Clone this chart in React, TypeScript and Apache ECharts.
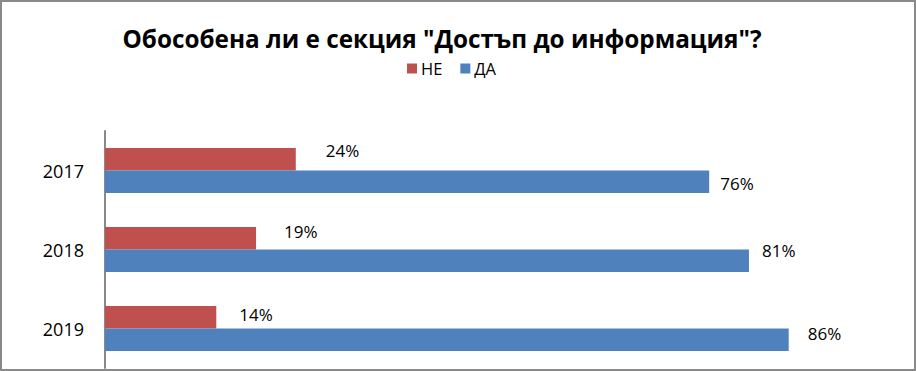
import React, { useEffect, useRef } from "react";
import * as echarts from "echarts";

const categories = ["2017", "2018", "2019"];
const seriesNames = ["НЕ", "ДА"];
const noValues = [24, 19, 14];
const yesValues = [76, 81, 86];
const titleText = 'Обособена ли е секция "Достъп до информация"?';

// manual label nudges (style only), as in the reference
const noLabelOffsets = [[25, -9], [23, -7], [18, -3]];
const yesLabelOffsets = [[6, 2], [8, -10], [14, -6]];

const FONT = "Open Sans";

export default function App() {
  const ref = useRef<HTMLDivElement>(null);
  useEffect(() => {
    if (!ref.current) return;
    const chart = echarts.init(ref.current, null, { renderer: "svg" });
    const mk = (vals: number[], offs: number[][]) =>
      vals.map((v, i) => ({
        value: v,
        label: { offset: offs[i] },
      }));
    chart.setOption({
      animation: false,
      backgroundColor: "#ffffff",
      title: {
        text: titleText,
        left: 437,
        textAlign: "center",
        top: 21,
        textStyle: {
          fontFamily: FONT,
          fontWeight: "bold",
          fontSize: 24.3,
          color: "#000000",
        },
      },
      legend: {
        data: seriesNames,
        left: 402,
        top: 55,
        itemWidth: 10,
        itemHeight: 10,
        itemGap: 18,
        icon: "rect",
        textStyle: { fontFamily: FONT, fontSize: 16.5, color: "#000000", padding: [0, 0, 0, -1] },
      },
      graphic: [
        {
          type: "rect",
          shape: { x: 1, y: 1, width: 914, height: 369 },
          style: { fill: "none", stroke: "#898989", lineWidth: 2 },
          silent: true,
        },
      ],
      grid: { left: 105, top: 131, width: 795, height: 237 },
      xAxis: {
        type: "value",
        min: 0,
        max: 100,
        show: false,
      },
      yAxis: {
        type: "category",
        data: categories,
        inverse: true,
        axisLine: { show: true, lineStyle: { color: "#898989", width: 2 } },
        axisTick: { show: false },
        axisLabel: {
          margin: 21,
          fontFamily: FONT,
          fontSize: 18,
          color: "#000000",
        },
        splitLine: { show: false },
      },
      series: [
        {
          name: seriesNames[0],
          type: "bar",
          data: mk(noValues, noLabelOffsets),
          barWidth: 22.5,
          barGap: "0%",
          itemStyle: { color: "#C0504D" },
          label: {
            show: true,
            position: "right",
            formatter: "{c}%",
            fontFamily: FONT,
            fontSize: 17,
            color: "#000000",
          },
        },
        {
          name: seriesNames[1],
          type: "bar",
          data: mk(yesValues, yesLabelOffsets),
          barWidth: 22.5,
          barGap: "0%",
          itemStyle: { color: "#4F81BD" },
          label: {
            show: true,
            position: "right",
            formatter: "{c}%",
            fontFamily: FONT,
            fontSize: 17,
            color: "#000000",
          },
        },
      ],
    });
    return () => chart.dispose();
  }, []);
  return (
    <div
      ref={ref}
      style={{ position: "absolute", left: 0, top: 0, width: 916, height: 371 }}
    />
  );
}
